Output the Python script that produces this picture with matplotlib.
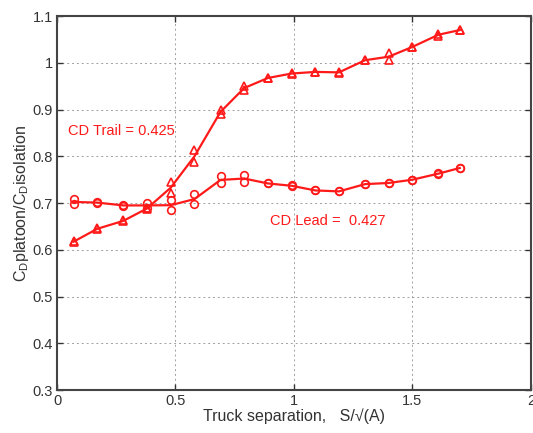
import matplotlib
matplotlib.use("Agg")
import matplotlib.pyplot as plt
import numpy as np

plt.rcParams['font.family'] = ['Liberation Sans', 'DejaVu Sans']
plt.rcParams['mathtext.fontset'] = 'custom'
plt.rcParams['mathtext.rm'] = 'Liberation Sans'
plt.rcParams['mathtext.it'] = 'Liberation Sans'

# truck separation positions
sep = [0.07, 0.17, 0.28, 0.38, 0.48, 0.58, 0.69, 0.79, 0.89, 0.99,
       1.09, 1.19, 1.30, 1.40, 1.50, 1.61, 1.70]

# trailing truck drag ratio, two runs per separation
trail_a = [0.616, 0.644, 0.661, 0.687, 0.721, 0.787, 0.890, 0.942, 0.967, 0.978,
           0.980, 0.980, 1.006, 1.006, 1.034, 1.058, 1.070]
trail_b = [0.619, 0.646, 0.663, 0.690, 0.745, 0.813, 0.900, 0.950, 0.968, 0.976,
           0.981, 0.979, 1.005, 1.020, 1.034, 1.062, 1.070]

# leading truck drag ratio, two runs per separation
lead_a = [0.708, 0.702, 0.696, 0.700, 0.706, 0.720, 0.757, 0.760, 0.742, 0.738,
          0.727, 0.725, 0.741, 0.743, 0.750, 0.764, 0.775]
lead_b = [0.697, 0.700, 0.694, 0.690, 0.685, 0.697, 0.742, 0.745, 0.742, 0.736,
          0.727, 0.725, 0.740, 0.743, 0.750, 0.762, 0.775]

trail_mean = (np.array(trail_a) + np.array(trail_b)) / 2
lead_mean = (np.array(lead_a) + np.array(lead_b)) / 2

red = '#ff1a1a'

fig = plt.figure(figsize=(5.33, 4.33), dpi=100)
ax = fig.add_axes([0.107, 0.099, 0.889, 0.864])

ax.plot(sep, trail_mean, '-', color=red, lw=1.6)
ax.plot(sep, lead_mean, '-', color=red, lw=1.6)
for ys in (trail_a, trail_b):
    ax.plot(sep, ys, '^', ms=5.5, mfc='none', mec=red, mew=1.2)
for ys in (lead_a, lead_b):
    ax.plot(sep, ys, 'o', ms=5.5, mfc='none', mec=red, mew=1.2)

ax.text(0.045, 0.854, 'CD Trail = 0.425', color=red, fontsize=10.5, va='center')
ax.text(0.90, 0.661, 'CD Lead =  0.427', color=red, fontsize=10.5, va='center')

ax.set_xlim(0, 2)
ax.set_ylim(0.3, 1.1)
ax.set_xticks([0, 0.5, 1, 1.5, 2])
ax.set_xticklabels(['0', '0.5', '1', '1.5', '2'])
ax.set_yticks(np.arange(0.3, 1.11, 0.1))
ax.set_yticklabels(['0.3', '0.4', '0.5', '0.6', '0.7', '0.8', '0.9', '1', '1.1'])
ax.tick_params(direction='in', top=True, right=True, length=4, width=1,
               labelsize=10.5, colors='#333333', pad=3)
ax.grid(True, ls=(0, (2, 3)), color='#a0a0a0', lw=0.7)
for s in ax.spines.values():
    s.set_linewidth(1.5)
    s.set_color('#444444')

ax.set_xlabel('Truck separation,   S/\u221a(A)', fontsize=11.5, color='#333333', labelpad=0)
ax.set_ylabel(r'C$_D$platoon/C$_D$isolation', fontsize=11.5, color='#333333', labelpad=1)

fig.savefig('out.png', dpi=100)
